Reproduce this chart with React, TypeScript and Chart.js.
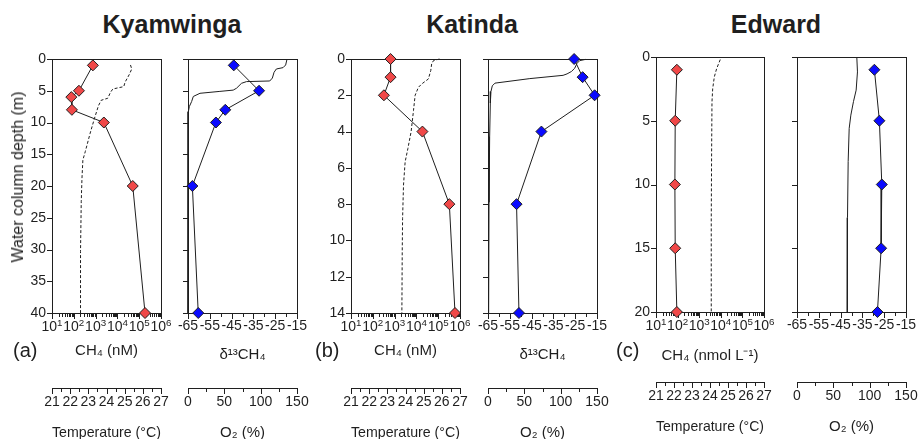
import React, { useEffect, useRef } from "react";
import { Chart, registerables } from "chart.js";

Chart.register(...registerables);

const FONT = "'Liberation Sans', Arial, Helvetica, sans-serif";
const INK = "#1f1f1f";
const RED = "#f04848";
const BLUE = "#0a0aff";

// ---------- Kyamwinga ----------
const kyaCh4Depth = [1, 5, 6, 8, 10, 20, 40];
const kyaCh4 = [750, 172, 77, 82, 2390, 50600, 185000];
const kyaD13CDepth = [1, 5, 8, 10, 20, 40];
const kyaD13C = [-44.0, -32.4, -47.9, -52.2, -63.0, -60.3];
const kyaTempDepth = [0.94, 1.57, 2.41, 3.67, 4.35, 4.72, 5.24, 6.18, 6.5, 7.34, 9.33, 11.69, 14.6, 15.9, 18.76, 22.4, 30.3, 40];
const kyaTemp = [25.32, 25.39, 25.26, 25.02, 24.95, 24.35, 24.22, 24.07, 23.71, 23.56, 23.34, 23.1, 22.83, 22.7, 22.65, 22.61, 22.57, 22.57];
const kyaO2Depth = [0, 0.94, 1.36, 1.57, 2.1, 3.0, 3.46, 3.56, 3.83, 4.6, 4.9, 5.1, 5.4, 5.9, 6.7, 7.5, 8.3, 40];
const kyaO2 = [136.3, 134.4, 130.8, 121.6, 118.4, 116.1, 112.5, 80.5, 73.6, 66.8, 62.2, 43.9, 16.5, 7.3, 5.0, 1.8, 0.5, 0];

// ---------- Katinda ----------
const katCh4Depth = [0, 1, 2, 4, 8, 14];
const katCh4 = [652, 652, 323, 18900, 325000, 590000];
const katD13CDepth = [0, 1, 2, 4, 8, 14];
const katD13C = [-25.5, -21.6, -16.1, -40.5, -51.9, -50.8];
const katTempDepth = [0, 0.09, 0.27, 0.64, 1.1, 1.37, 1.56, 2.0, 2.84, 4.0, 4.94, 5.67, 6.95, 8.78, 10.6, 14];
const katTemp = [25.87, 25.54, 25.44, 25.39, 25.26, 24.9, 24.71, 24.53, 24.44, 24.31, 24.13, 23.98, 23.89, 23.84, 23.82, 23.8];
const katO2Depth = [0.02, 0.09, 0.24, 0.51, 0.69, 0.82, 0.9, 1.08, 1.33, 1.48, 1.79, 2.43, 4.26, 7.9, 14];
const katO2 = [134.4, 126.2, 122.5, 119.3, 114.8, 108.8, 103.3, 57.6, 9.6, 5.9, 4.1, 3.2, 2.3, 1.4, 0.9];

// ---------- Edward ----------
const edwCh4Depth = [1, 5, 10, 15, 20];
const edwCh4 = [92.5, 77.5, 74.8, 77.5, 92.5];
const edwD13CDepth = [1, 5, 10, 15, 20];
const edwD13C = [-29.5, -27.2, -26.1, -26.4, -28.1];
const edwTempDepth = [0.2, 0.91, 1.56, 2.48, 3.52, 7.43, 12.65, 20];
const edwTemp = [24.57, 24.37, 24.24, 24.15, 24.11, 24.09, 24.07, 24.07];
const edwO2Depth = [0, 1.17, 2.6, 3.5, 4.56, 5.6, 8.2, 12.6, 20];
const edwO2 = [82.3, 83.2, 81.4, 77.7, 74.1, 71.8, 70.4, 69.5, 69.2];

// ---------- Axis ticks ----------
const ch4TickValues = [1e1, 1e2, 1e3, 1e4, 1e5, 1e6];
const ch4TickExponents = ["1", "2", "3", "4", "5", "6"];
const ch4MinorTicks = ch4TickValues.slice(0, -1).flatMap((v) => [2, 3, 4, 5, 6, 7, 8, 9].map((m) => m * v));
const d13cTickValues = [-65, -55, -45, -35, -25, -15];
const d13cMinorTicks = [-60, -50, -40, -30, -20];
const tempTickValues = [21, 22, 23, 24, 25, 26, 27];
const tempMinorTicks = [21.5, 22.5, 23.5, 24.5, 25.5, 26.5];
const o2TickValues = [0, 50, 100, 150];
const o2MinorTicks = [25, 75, 125];
const kyaDepthTicks = [0, 5, 10, 15, 20, 25, 30, 35, 40];
const katDepthTicks = [0, 2, 4, 6, 8, 10, 12, 14];
const edwDepthTicks = [0, 5, 10, 15, 20];

// ---------- Layout ----------
const YW = 40;
const PADR = 16;
const PADT = 10;
const X2H = 52;
const TICK_SIZE = 14;
const TITLE_SIZE = 15;

type Series = { depth: number[]; values: number[] };
type PanelDef = {
  key: string;
  kind: "ch4" | "d13c";
  left: number;
  right: number;
  top: number;
  bottom: number;
  axis2Top: number;
  depthMax: number;
  depthTicks: number[];
  depthLabels: boolean;
  title: string;
  titleGap: number;
  axis2Title: string;
  series: Series;
  profile: Series;
};

const panels: PanelDef[] = [
  {
    key: "kya1", kind: "ch4", left: 52, right: 161, top: 59, bottom: 313, axis2Top: 388,
    depthMax: 40, depthTicks: kyaDepthTicks, depthLabels: true,
    title: "CH₄ (nM)", titleGap: 29.5, axis2Title: "Temperature (°C)",
    series: { depth: kyaCh4Depth, values: kyaCh4 }, profile: { depth: kyaTempDepth, values: kyaTemp },
  },
  {
    key: "kya2", kind: "d13c", left: 188, right: 297, top: 59, bottom: 313, axis2Top: 388,
    depthMax: 40, depthTicks: kyaDepthTicks, depthLabels: false,
    title: "δ¹³CH₄", titleGap: 25.5, axis2Title: "O₂ (%)",
    series: { depth: kyaD13CDepth, values: kyaD13C }, profile: { depth: kyaO2Depth, values: kyaO2 },
  },
  {
    key: "kat1", kind: "ch4", left: 351, right: 460, top: 59, bottom: 313, axis2Top: 388,
    depthMax: 14, depthTicks: katDepthTicks, depthLabels: true,
    title: "CH₄ (nM)", titleGap: 29.5, axis2Title: "Temperature (°C)",
    series: { depth: katCh4Depth, values: katCh4 }, profile: { depth: katTempDepth, values: katTemp },
  },
  {
    key: "kat2", kind: "d13c", left: 488, right: 597, top: 59, bottom: 313, axis2Top: 388,
    depthMax: 14, depthTicks: katDepthTicks, depthLabels: false,
    title: "δ¹³CH₄", titleGap: 25.5, axis2Title: "O₂ (%)",
    series: { depth: katD13CDepth, values: katD13C }, profile: { depth: katO2Depth, values: katO2 },
  },
  {
    key: "edw1", kind: "ch4", left: 656, right: 764, top: 57, bottom: 312, axis2Top: 382,
    depthMax: 20, depthTicks: edwDepthTicks, depthLabels: true,
    title: "CH₄ (nmol L⁻¹)", titleGap: 18.5, axis2Title: "Temperature (°C)",
    series: { depth: edwCh4Depth, values: edwCh4 }, profile: { depth: edwTempDepth, values: edwTemp },
  },
  {
    key: "edw2", kind: "d13c", left: 797, right: 906, top: 57, bottom: 312, axis2Top: 382,
    depthMax: 20, depthTicks: edwDepthTicks, depthLabels: false,
    title: "", titleGap: 18.5, axis2Title: "O₂ (%)",
    series: { depth: edwD13CDepth, values: edwD13C }, profile: { depth: edwO2Depth, values: edwO2 },
  },
];

function geometry(p: PanelDef) {
  return {
    x: p.left - YW,
    y: p.top - PADT,
    w: YW + (p.right - p.left) + PADR,
    h: PADT + (p.axis2Top - p.top) + X2H,
  };
}

function zeroPad(s: any) {
  s.paddingLeft = 0;
  s.paddingRight = 0;
  s.paddingTop = 0;
  s.paddingBottom = 0;
}

function axesPlugin(p: PanelDef) {
  const isCh4 = p.kind === "ch4";
  return {
    id: "axesFrame" + p.key,
    beforeDatasetsDraw(chart: any) {
      const { ctx, chartArea: a, scales } = chart;
      const L = Math.round(a.left);
      const R = Math.round(a.right);
      const T = Math.round(a.top);
      const B = Math.round(a.bottom);
      ctx.save();
      ctx.strokeStyle = INK;
      ctx.lineWidth = 1;
      ctx.strokeRect(L + 0.5, T + 0.5, R - L, B - T);
      ctx.beginPath();
      const vTicks = (scale: any, vals: number[], len: number, y0: number) => {
        vals.forEach((v) => {
          const px = Math.round(scale.getPixelForValue(v)) + 0.5;
          ctx.moveTo(px, y0);
          ctx.lineTo(px, y0 + len);
        });
      };
      const hTicks = (scale: any, vals: number[], len: number) => {
        vals.forEach((v) => {
          const py = Math.round(scale.getPixelForValue(v)) + 0.5;
          ctx.moveTo(L - len, py);
          ctx.lineTo(L, py);
        });
      };
      vTicks(scales.x, isCh4 ? ch4TickValues : d13cTickValues, 5, B + 1);
      vTicks(scales.x, isCh4 ? ch4MinorTicks : d13cMinorTicks, 3, B + 1);
      hTicks(scales.y, p.depthTicks, 5);
      const y2 = Math.round(scales.x2.top);
      ctx.moveTo(L, y2 + 0.5);
      ctx.lineTo(R + 1, y2 + 0.5);
      vTicks(scales.x2, isCh4 ? tempTickValues : o2TickValues, 5, y2 + 1);
      vTicks(scales.x2, isCh4 ? tempMinorTicks : o2MinorTicks, 3, y2 + 1);
      ctx.stroke();

      // log-axis labels: "10" with a raised exponent
      if (isCh4) {
        const base = B + 18;
        const bigFont = `${TICK_SIZE}px ${FONT}`;
        const smallFont = `${TICK_SIZE * 0.7}px ${FONT}`;
        ctx.fillStyle = INK;
        ctx.textBaseline = "alphabetic";
        ctx.textAlign = "left";
        ch4TickValues.forEach((v, i) => {
          const px = scales.x.getPixelForValue(v);
          ctx.font = bigFont;
          const w1 = ctx.measureText("10").width;
          ctx.font = smallFont;
          const w2 = ctx.measureText(ch4TickExponents[i]).width;
          const x0 = px - (w1 + w2) / 2;
          ctx.font = bigFont;
          ctx.fillText("10", x0, base);
          ctx.font = smallFont;
          ctx.fillText(ch4TickExponents[i], x0 + w1, base - 5.5);
        });
      }
      ctx.restore();
    },
  };
}

function makeChart(canvas: HTMLCanvasElement, p: PanelDef) {
  const isCh4 = p.kind === "ch4";
  const tickFont = { family: FONT, size: TICK_SIZE };
  const titleFont = { family: FONT, size: TITLE_SIZE, lineHeight: 1 };
  const xh = p.axis2Top - p.bottom;
  const fixedTicks = (vals: number[]) => (s: any) => {
    s.ticks = vals.map((v) => ({ value: v }));
  };
  const common = {
    grid: { display: false, drawTicks: true, tickLength: 5 },
    border: { display: false },
  };
  const markerColor = isCh4 ? RED : BLUE;

  const datasets: any[] = [
    {
      data: p.series.depth.map((d, i) => ({ x: p.series.values[i], y: d })),
      xAxisID: "x",
      yAxisID: "y",
      showLine: true,
      borderColor: INK,
      borderWidth: 1,
      tension: 0,
      pointStyle: "rectRot",
      pointRadius: 5.5,
      pointBackgroundColor: markerColor,
      pointBorderColor: INK,
      pointBorderWidth: 1,
      clip: false,
      order: 1,
    },
    {
      data: p.profile.depth.map((d, i) => ({ x: p.profile.values[i], y: d })),
      xAxisID: "x2",
      yAxisID: "y",
      showLine: true,
      borderColor: INK,
      borderWidth: 1,
      borderDash: isCh4 ? [3, 2] : [],
      tension: 0,
      pointRadius: 0,
      clip: false,
      order: 2,
    },
  ];

  return new Chart(canvas, {
    type: "scatter",
    data: { datasets },
    options: {
      responsive: false,
      animation: false,
      events: [],
      layout: { padding: { left: 0, right: PADR, top: PADT, bottom: 0 }, autoPadding: false },
      plugins: { legend: { display: false }, tooltip: { enabled: false } },
      scales: {
        x: {
          ...common,
          axis: "x",
          type: isCh4 ? "logarithmic" : "linear",
          position: "bottom",
          weight: 0,
          min: isCh4 ? 10 : -65,
          max: isCh4 ? 1e6 : -15,
          afterBuildTicks: fixedTicks(isCh4 ? ch4TickValues : d13cTickValues),
          afterFit: (s: any) => {
            s.height = xh;
            zeroPad(s);
          },
          ticks: {
            font: tickFont,
            color: INK,
            padding: 0,
            autoSkip: false,
            maxRotation: 0,
            minRotation: 0,
            callback: (v: any) => (isCh4 ? "" : String(v)),
          },
          title: {
            display: !!p.title,
            text: p.title,
            font: titleFont,
            color: INK,
            padding: { top: 0, bottom: p.titleGap },
          },
        },
        x2: {
          ...common,
          axis: "x",
          type: "linear",
          position: "bottom",
          weight: 1,
          min: isCh4 ? 21 : 0,
          max: isCh4 ? 27 : 150,
          afterBuildTicks: fixedTicks(isCh4 ? tempTickValues : o2TickValues),
          afterFit: (s: any) => {
            s.height = X2H;
            zeroPad(s);
          },
          ticks: {
            font: tickFont,
            color: INK,
            padding: 0.5,
            autoSkip: false,
            maxRotation: 0,
            minRotation: 0,
            callback: (v: any) => String(v),
          },
          title: {
            display: true,
            text: p.axis2Title,
            font: titleFont,
            color: INK,
            padding: { top: 0, bottom: 0 },
          },
        },
        y: {
          ...common,
          axis: "y",
          type: "linear",
          position: "left",
          reverse: true,
          min: 0,
          max: p.depthMax,
          afterBuildTicks: fixedTicks(p.depthTicks),
          afterFit: (s: any) => {
            s.width = YW;
            zeroPad(s);
          },
          ticks: {
            display: p.depthLabels,
            font: tickFont,
            color: INK,
            padding: 1,
            autoSkip: false,
          },
        },
      },
    } as any,
    plugins: [axesPlugin(p)],
  });
}

function Panel({ p }: { p: PanelDef }) {
  const ref = useRef<HTMLCanvasElement>(null);
  useEffect(() => {
    const chart = makeChart(ref.current as HTMLCanvasElement, p);
    return () => chart.destroy();
  }, [p]);
  const g = geometry(p);
  return (
    <canvas
      ref={ref}
      width={g.w}
      height={g.h}
      style={{ position: "absolute", left: g.x, top: g.y, width: g.w, height: g.h }}
    />
  );
}

const lakeTitles = [
  { text: "Kyamwinga", cx: 172 },
  { text: "Katinda", cx: 472 },
  { text: "Edward", cx: 776 },
];
const panelLetters = [
  { text: "(a)", x: 13 },
  { text: "(b)", x: 315 },
  { text: "(c)", x: 616 },
];

export default function App() {
  return (
    <div
      style={{
        position: "absolute",
        left: 0,
        top: 0,
        width: 920,
        height: 439,
        overflow: "hidden",
        background: "#fff",
        fontFamily: FONT,
        color: INK,
      }}
    >
      {panels.map((p) => (
        <Panel key={p.key} p={p} />
      ))}
      {lakeTitles.map((t) => (
        <div
          key={t.text}
          style={{
            position: "absolute",
            left: t.cx - 100,
            width: 200,
            top: 12,
            textAlign: "center",
            fontSize: 25,
            lineHeight: "25px",
            fontWeight: "bold",
            whiteSpace: "nowrap",
          }}
        >
          {t.text}
        </div>
      ))}
      {panelLetters.map((t) => (
        <div
          key={t.text}
          style={{
            position: "absolute",
            left: t.x,
            top: 340,
            fontSize: 20,
            lineHeight: "20px",
            whiteSpace: "nowrap",
          }}
        >
          {t.text}
        </div>
      ))}
      <div
        style={{
          position: "absolute",
          left: 18,
          top: 177,
          fontSize: 16,
          lineHeight: "16px",
          whiteSpace: "nowrap",
          transform: "translate(-50%, -50%) rotate(-90deg)",
        }}
      >
        Water column depth (m)
      </div>
    </div>
  );
}
